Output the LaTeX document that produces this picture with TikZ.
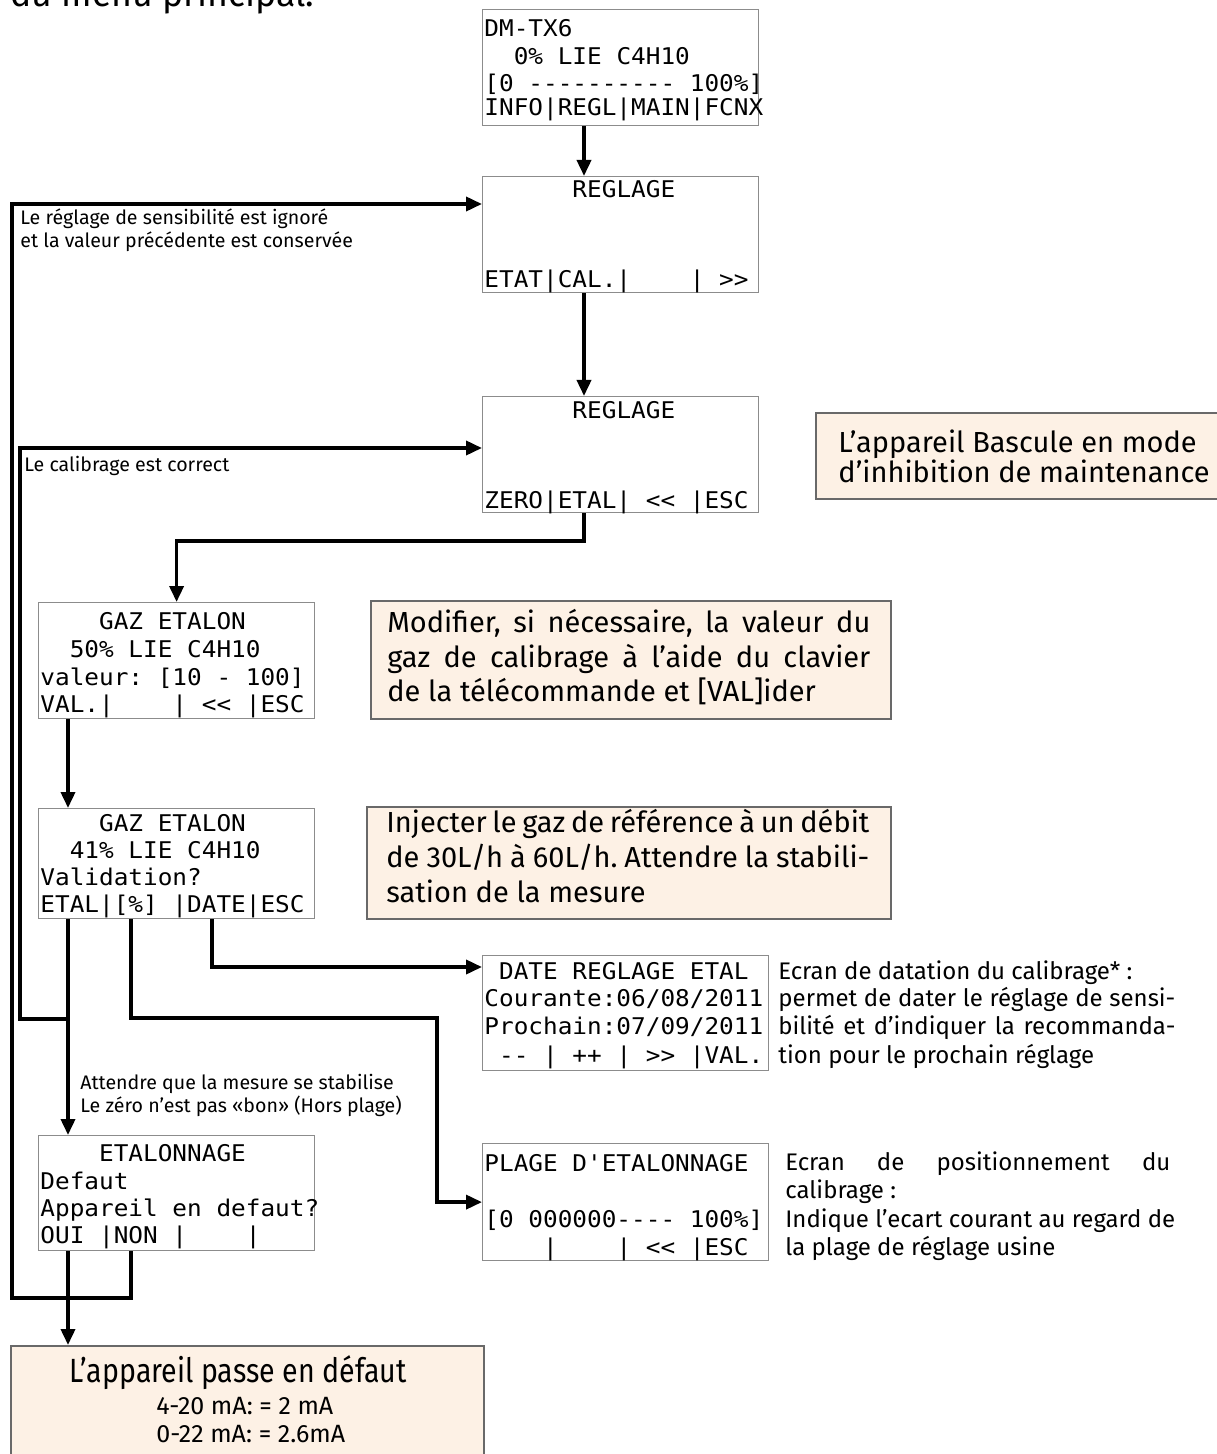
\documentclass[tikz,border=0pt]{standalone}
\usepackage{fontspec}
\setmainfont{Fira Sans}
\newfontfamily\narrowf[FakeStretch=0.85]{Fira Sans}
\newfontfamily\lcdfont[FakeStretch=1.06,Ligatures=TeXOff]{DejaVu Sans Mono}
\usetikzlibrary{arrows.meta,calc}
\definecolor{peach}{RGB}{253,241,229}
\definecolor{lcdgray}{RGB}{140,140,140}
\definecolor{boxgray}{RGB}{105,105,105}
\newcommand\lcdl[3]{\node[lcdtxt] (#1) at (#2) {#3};}
\frenchspacing
\begin{document}
\begin{tikzpicture}[x=0.5pt,y=-0.5pt,
  lcdbox/.style={draw=lcdgray,line width=0.6pt,inner sep=0,anchor=north west},
  notebox/.style={draw=boxgray,line width=0.9pt,fill=peach,inner sep=0,anchor=north west},
  lcdtxt/.style={anchor=base west,inner sep=0,font=\lcdfont\fontsize{11.5}{13}\selectfont},
  lab/.style={anchor=base west,inner sep=0,font=\fontsize{9.8}{12}\selectfont},
  big/.style={anchor=base west,inner sep=0,font=\fontsize{14.5}{16}\selectfont},
  head/.style={anchor=base,inner sep=0,font=\narrowf\fontsize{16.8}{18}\selectfont},
  desc/.style={anchor=base west,inner sep=0,font=\fontsize{12}{14}\selectfont},
  mid/.style={anchor=base west,inner sep=0,font=\fontsize{12.5}{14}\selectfont},
  conn/.style={line width=1.8pt,-{Triangle[length=8pt,width=7pt]}},
]
\useasboundingbox (0,0) rectangle (1216,1454);

% top clipped text
\node[anchor=base west,inner sep=0,font=\fontsize{17.8}{20}\selectfont] (top) at (10,7) {du menu principal.};

% LCD boxes
\node[lcdbox,minimum width=138pt,minimum height=58pt] (b1) at (482,9) {};
\node[lcdbox,minimum width=138pt,minimum height=58pt] (b2) at (482,176) {};
\node[lcdbox,minimum width=138pt,minimum height=58pt] (b3) at (482,396) {};
\node[lcdbox,minimum width=138pt,minimum height=58pt] (b4) at (38,602) {};
\node[lcdbox,minimum width=138pt,minimum height=55pt] (b5) at (38,808) {};
\node[lcdbox,minimum width=138pt,minimum height=57.5pt] (b6) at (38,1135) {};
\node[lcdbox,minimum width=143pt,minimum height=57.5pt] (b7) at (482,955) {};
\node[lcdbox,minimum width=143pt,minimum height=58.5pt] (b8) at (482,1143) {};

% note boxes
\node[notebox,minimum width=205pt,minimum height=43pt] (n1) at (815,412) {};
\node[notebox,minimum width=260pt,minimum height=59pt] (n2) at (370,600) {};
\node[notebox,minimum width=262pt,minimum height=56pt] (n3) at (366,806) {};
\node[notebox,minimum width=236.5pt,minimum height=62.5pt] (n4) at (10,1345) {};

% LCD texts
\lcdl{b1a}{484,37}{DM-TX6}
\lcdl{b1b}{484,65}{~~0\% LIE C4H10}
\lcdl{b1c}{484,92}{[0 ---------- 100\%]}
\lcdl{b1d}{484,116}{INFO|REGL|MAIN|FCNX}
\lcdl{b2a}{484,198}{~~~~~~REGLAGE}
\lcdl{b2b}{484,288}{ETAT|CAL.|~~~~|~>>}
\lcdl{b3a}{484,419}{~~~~~~REGLAGE}
\lcdl{b3b}{484,508}{ZERO|ETAL|~<<~|ESC}
\lcdl{b4a}{40,629}{~~~~GAZ ETALON}
\lcdl{b4b}{40,657}{~~50\% LIE C4H10}
\lcdl{b4c}{40,685}{valeur: [10 - 100]}
\lcdl{b4d}{40,712}{VAL.|~~~~|~<<~|ESC}
\lcdl{b5a}{40,831}{~~~~GAZ ETALON}
\lcdl{b5b}{40,858}{~~41\% LIE C4H10}
\lcdl{b5c}{40,885}{Validation?}
\lcdl{b5d}{40,912}{ETAL|[\%]~|DATE|ESC}
\lcdl{b6a}{40,1161}{~~~~ETALONNAGE}
\lcdl{b6b}{40,1189}{Defaut}
\lcdl{b6c}{40,1216}{Appareil en defaut?}
\lcdl{b6d}{40,1243}{OUI~|NON~|~~~~|}
\lcdl{b7a}{484,979}{~DATE REGLAGE ETAL}
\lcdl{b7b}{484,1006}{Courante:06/08/2011}
\lcdl{b7c}{484,1034}{Prochain:07/09/2011}
\lcdl{b7d}{484,1063}{~--~|~++~|~>>~|VAL.}
\lcdl{b8a}{484,1171}{PLAGE D'ETALONNAGE}
\lcdl{b8b}{484,1227}{[0 000000---- 100\%]}
\lcdl{b8c}{484,1255}{~~~~|~~~~|~<<~|ESC}

% note texts
\node[big] (n1a) at (838,452) {L’appareil Bascule en mode};
\node[big] (n1b) at (838,482) {d’inhibition de maintenance};
\node[big] (n2a) at (387,632) {\makebox[241.5pt][s]{Modifier, si nécessaire, la valeur du}};
\node[big] (n2b) at (387,667) {\makebox[241.5pt][s]{gaz de calibrage à l’aide du clavier}};
\node[big] (n2c) at (387,701) {de la télécommande et [VAL]ider};
\node[big] (n3a) at (386,832) {\makebox[241.5pt][s]{Injecter le gaz de référence à un débit}};
\node[big] (n3b) at (386,867) {\makebox[241.5pt][s]{de 30L/h à 60L/h. Attendre la stabili-}};
\node[big] (n3c) at (386,902) {sation de la mesure};
\node[head] (n4a) at (238,1382) {L’appareil passe en défaut};
\node[mid] (n4b) at (156,1414) {4-20 mA: = 2 mA};
\node[mid] (n4c) at (156,1442) {0-22 mA: = 2.6mA};

% descriptions
\node[desc] (d1a) at (778,979) {Ecran de datation du calibrage* :};
\node[desc] (d1b) at (778,1006) {\makebox[198.5pt][s]{permet de dater le réglage de sensi-}};
\node[desc] (d1c) at (778,1034) {\makebox[198.5pt][s]{bilité et d’indiquer la recommanda-}};
\node[desc] (d1d) at (778,1063) {tion pour le prochain réglage};
\node[desc] (d2a) at (785,1170) {\makebox[192.5pt][s]{Ecran de positionnement du}};
\node[desc] (d2b) at (785,1198) {calibrage :};
\node[desc] (d2c) at (785,1227) {Indique l’ecart courant au regard de};
\node[desc] (d2d) at (785,1255) {la plage de réglage usine};

% connector labels
\node[lab] (l1a) at (20,225) {Le réglage de sensibilité est ignoré};
\node[lab] (l1b) at (20,248) {et la valeur précédente est conservée};
\node[lab] (l2) at (24,471) {Le calibrage est correct};
\node[lab] (l3a) at (80,1089) {Attendre que la mesure se stabilise};
\node[lab] (l3b) at (80,1112) {Le zéro n’est pas «bon» (Hors plage)};

% connectors
\coordinate (c1) at (12,204);
\coordinate (c2) at (20,448);
\coordinate (j1) at ($(b5.south west)+(30,100)$);
\draw[conn] ($(b1.south west)+(102,0)$) -- ($(b2.north west)+(102,0)$);
\draw[conn] ($(b2.south west)+(102,0)$) -- ($(b3.north west)+(102,0)$);
\draw[conn] ($(b3.south west)+(102,0)$) -- ++(0,28) -| (b4.north);
\draw[conn] ($(b4.south west)+(30,0)$) -- ($(b5.north west)+(30,0)$);
\draw[conn] ($(b5.south west)+(30,0)$) -- ($(b6.north west)+(30,0)$);
\draw[conn] (j1) -| (c2) -- (c2 -| b3.west);
\draw[conn] ($(b5.south west)+(93,0)$) |- (437,1018) |- (b8.west);
\draw[conn] ($(b5.south west)+(174,0)$) |- ($(b7.north west)+(0,12)$);
\draw[conn] ($(b6.south west)+(93,0)$) |- (12,1298) -- (c1) -- (c1 -| b2.west);
\draw[conn] ($(b6.south west)+(30,0)$) -- ($(n4.north west)+(58,0)$);
\end{tikzpicture}
\end{document}
